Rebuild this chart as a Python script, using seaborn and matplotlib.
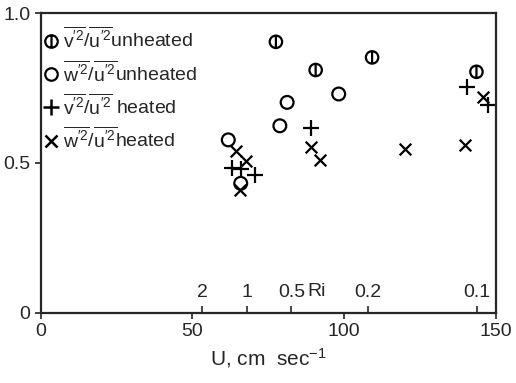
import numpy as np
import pandas as pd
import matplotlib
matplotlib.use("Agg")
import matplotlib.pyplot as plt
from matplotlib.path import Path
from matplotlib.lines import Line2D
import seaborn as sns

# data
# v'^2/u'^2 unheated (circle with bar)
v_unh_u = [77.5, 90.6, 109.2, 143.6]
v_unh_r = [0.904, 0.810, 0.852, 0.804]
# w'^2/u'^2 unheated (open circle)
w_unh_u = [61.8, 81.2, 78.8, 98.2, 65.9]
w_unh_r = [0.577, 0.702, 0.624, 0.730, 0.432]
# v'^2/u'^2 heated (+)
v_h_u = [62.9, 66.0, 70.6, 89.2, 140.4, 147.5]
v_h_r = [0.482, 0.480, 0.460, 0.616, 0.754, 0.693]
# w'^2/u'^2 heated (x)
w_h_u = [64.5, 67.8, 65.6, 89.2, 92.0, 119.9, 139.8, 145.8]
w_h_r = [0.540, 0.505, 0.410, 0.554, 0.510, 0.545, 0.560, 0.721]

# Richardson number scale along the U axis
ri_labels = ["2", "1", "0.5", "0.2", "0.1"]
ri_u = [53.3, 68.0, 82.6, 107.9, 143.8]

sns.set_style("ticks")
plt.rcParams["font.family"] = ["Liberation Sans", "DejaVu Sans"]
plt.rcParams["mathtext.fontset"] = "custom"
plt.rcParams["mathtext.rm"] = "Liberation Sans"
plt.rcParams["mathtext.it"] = "Liberation Sans"

# circle with a vertical bar through it
circ = Path.unit_circle()
bar = Path([(0, -1), (0, 1)], [Path.MOVETO, Path.LINETO])
phi = Path.make_compound_path(circ, bar)

fig, ax = plt.subplots(figsize=(5.16, 3.83), dpi=100)
fig.subplots_adjust(left=0.079, right=0.961, bottom=0.183, top=0.966)

kw = dict(color="black", linewidth=1.6, legend=False, ax=ax)
sns.scatterplot(x=v_unh_u, y=v_unh_r, marker=phi, s=80, facecolors="none", edgecolors="black", **kw)
sns.scatterplot(x=w_unh_u, y=w_unh_r, marker="o", s=85, facecolors="none", edgecolors="black", **kw)
sns.scatterplot(x=v_h_u, y=v_h_r, marker="+", s=130, **kw)
sns.scatterplot(x=w_h_u, y=w_h_r, marker="x", s=70, **kw)

ax.set_xlim(0, 150)
ax.set_ylim(0, 1.0)
ax.set_xticks([0, 50, 100, 150])
ax.set_yticks([0, 0.5, 1.0], labels=["0", "0.5", "1.0"])
ax.tick_params(labelsize=14, width=1.2, length=4, direction="out")
for s in ax.spines.values():
    s.set_linewidth(1.6)
ax.set_xlabel(r"U, cm  sec$^{-1}$", fontsize=15)

# Ri scale inside the plot, along the bottom axis
sec = ax.secondary_xaxis(0.0)
sec.set_xticks(ri_u, labels=ri_labels)
sec.tick_params(axis="x", direction="in", length=5, width=1.2, pad=-21, labelsize=14)
sec.spines["bottom"].set_visible(False)
ax.text(91, 0.042, "Ri", fontsize=14, ha="center", va="bottom")

v_lab = r"$\overline{\mathrm{v}^{\prime 2}}/\overline{\mathrm{u}^{\prime 2}}$"
w_lab = r"$\overline{\mathrm{w}^{\prime 2}}/\overline{\mathrm{u}^{\prime 2}}$"
handles = [
    Line2D([], [], ls="", marker=phi, ms=9, mfc="none", mec="black", mew=1.6),
    Line2D([], [], ls="", marker="o", ms=9, mfc="none", mec="black", mew=1.6),
    Line2D([], [], ls="", marker="+", ms=11, mec="black", mew=1.8),
    Line2D([], [], ls="", marker="x", ms=8, mec="black", mew=1.8),
]
labels = [v_lab + "unheated", w_lab + "unheated", v_lab + " heated", w_lab + "heated"]
ax.legend(handles, labels, loc="upper left", bbox_to_anchor=(-0.012, 0.975),
          frameon=False, fontsize=14,
          handletextpad=0.15, handlelength=1.0, labelspacing=0.38,
          borderaxespad=0.0, borderpad=0.3)

fig.savefig("out.png", dpi=100)
